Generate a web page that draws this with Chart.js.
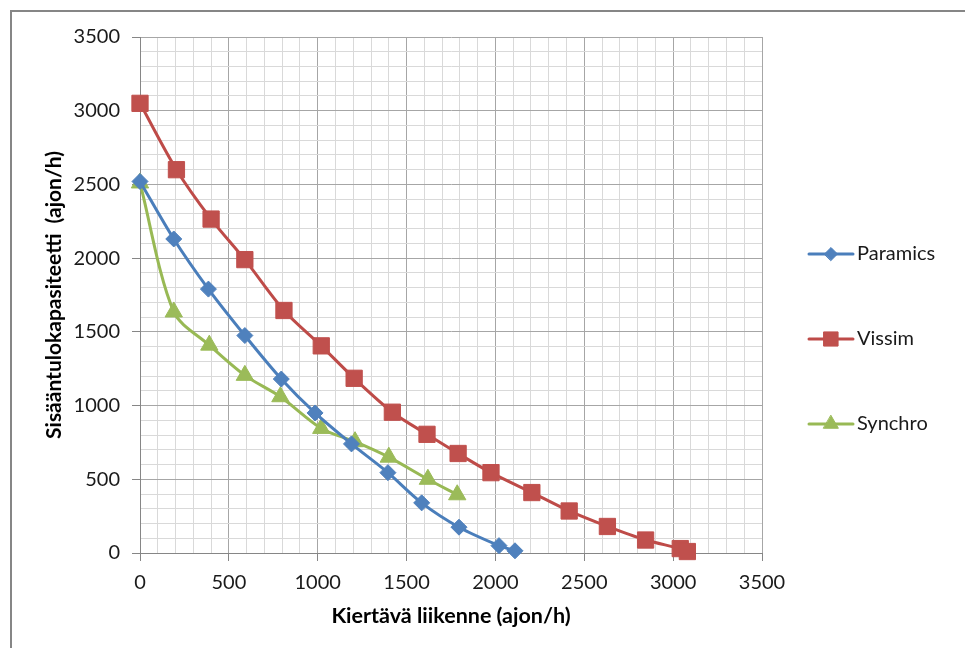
<!DOCTYPE html>
<html>
<head>
<meta charset="utf-8">
<script src="https://cdn.jsdelivr.net/npm/chart.js@4/dist/chart.umd.min.js"></script>
<style>
  html, body { margin: 0; padding: 0; background: #fff; }
  #wrap { width: 965px; height: 648px; }
</style>
</head>
<body>
<div id="wrap"><canvas id="chart" width="965" height="648"></canvas></div>
<script>
// kiertava liikenne (x) ja sisaantulokapasiteetti (y)
var paramicsX = [0, 190, 385, 590, 795, 985, 1190, 1395, 1585, 1795, 2020, 2110];
var paramicsY = [2520, 2130, 1790, 1475, 1180, 950, 740, 545, 340, 175, 50, 15];

var vissimX = [0, 205, 400, 590, 810, 1020, 1205, 1420, 1615, 1790, 1975, 2205, 2415, 2630, 2845, 3040, 3080];
var vissimY = [3050, 2600, 2265, 1990, 1645, 1405, 1185, 955, 805, 675, 545, 410, 285, 180, 88, 30, 10];

var synchroX = [0, 190, 390, 590, 790, 1020, 1210, 1400, 1620, 1785];
var synchroY = [2510, 1635, 1410, 1205, 1060, 845, 755, 650, 500, 395];

var seriesNames = ['Paramics', 'Vissim', 'Synchro'];
var lineColors = ['#4a7ebb', '#be4b48', '#98b954'];
var markerColors = ['#4f81bd', '#c0504d', '#9bbb59'];
var markerStyles = ['rectRot', 'rect', 'triangle'];
var markerSizes = [8, 11.5, 10];

var axisTicks = [0, 500, 1000, 1500, 2000, 2500, 3000, 3500];

var FONT = 'Lato, Calibri, "Liberation Sans", sans-serif';

function toPoints(xs, ys) {
  return xs.map(function (x, i) { return { x: x, y: ys[i] }; });
}

function isMajor(v) { return axisTicks.indexOf(v) !== -1; }

var allX = [paramicsX, vissimX, synchroX];
var allY = [paramicsY, vissimY, synchroY];

var datasets = seriesNames.map(function (name, i) {
  return {
    label: name,
    data: toPoints(allX[i], allY[i]),
    borderColor: lineColors[i],
    backgroundColor: markerColors[i],
    borderWidth: 3,
    tension: 0.3,
    pointStyle: markerStyles[i],
    pointRadius: markerSizes[i],
    pointHoverRadius: markerSizes[i],
    pointBorderWidth: 1,
    pointBorderColor: markerColors[i],
    pointBackgroundColor: markerColors[i],
    clip: false
  };
});

var frame = {
  id: 'frame',
  beforeDraw: function (chart) {
    var ctx = chart.ctx;
    ctx.save();
    ctx.fillStyle = '#fff';
    ctx.fillRect(0, 0, chart.width, chart.height);
    ctx.strokeStyle = '#868686';
    ctx.lineWidth = 2;
    ctx.strokeRect(11, 11, 1100, 1100);
    ctx.restore();
  }
};

var sideLegend = {
  id: 'sideLegend',
  afterDraw: function (chart) {
    var ctx = chart.ctx;
    var rows = [254, 339, 424];
    ctx.save();
    seriesNames.forEach(function (name, i) {
      var y = rows[i];
      ctx.strokeStyle = lineColors[i];
      ctx.lineWidth = 3;
      ctx.lineCap = 'round';
      ctx.beginPath();
      ctx.moveTo(809, y);
      ctx.lineTo(853, y);
      ctx.stroke();
      ctx.fillStyle = markerColors[i];
      ctx.strokeStyle = markerColors[i];
      ctx.lineWidth = 1;
      Chart.helpers.drawPoint(ctx, {
        pointStyle: markerStyles[i],
        radius: markerSizes[i] - 1.5,
        rotation: 0,
        borderWidth: 1
      }, 831, y);
      ctx.fillStyle = '#1a1a1a';
      ctx.font = '20px ' + FONT;
      ctx.textBaseline = 'middle';
      ctx.textAlign = 'left';
      ctx.fillText(name, 857, y);
    });
    ctx.restore();
  }
};

function gridColor(c) { return isMajor(c.tick.value) ? '#a6a6a6' : '#d9d9d9'; }
function tickColor(c) { return isMajor(c.tick.value) ? '#868686' : 'rgba(0,0,0,0)'; }
function tickLabel(v) { return isMajor(v) ? String(v) : ''; }

new Chart(document.getElementById('chart'), {
  type: 'line',
  data: { datasets: datasets },
  options: {
    responsive: false,
    animation: false,
    layout: { padding: { top: 37, right: 203, left: 0, bottom: 0 } },
    plugins: {
      legend: { display: false },
      tooltip: { enabled: false }
    },
    scales: {
      x: {
        type: 'linear',
        min: 0,
        max: 3500,
        afterFit: function (s) { s.height = 95; },
        ticks: {
          stepSize: 100,
          autoSkip: false,
          maxRotation: 0,
          padding: 10,
          color: '#1a1a1a',
          font: { family: FONT, size: 20 },
          callback: tickLabel
        },
        grid: { color: gridColor, tickColor: tickColor, tickLength: 8, lineWidth: 1 },
        border: { color: '#868686', width: 1 },
        title: {
          display: true,
          text: 'Kiertävä liikenne (ajon/h)',
          color: '#000',
          font: { family: FONT, size: 21.5, weight: 'bold' },
          padding: { top: 0, bottom: 19 }
        }
      },
      y: {
        type: 'linear',
        min: 0,
        max: 3500,
        afterFit: function (s) { s.width = 140; },
        ticks: {
          stepSize: 100,
          autoSkip: false,
          padding: 12,
          color: '#1a1a1a',
          font: { family: FONT, size: 20 },
          callback: tickLabel
        },
        grid: { color: gridColor, tickColor: tickColor, tickLength: 8, lineWidth: 1 },
        border: { color: '#868686', width: 1 },
        title: {
          display: true,
          text: 'Sisääntulokapasiteetti  (ajon/h)',
          color: '#000',
          font: { family: FONT, size: 21, weight: 'bold' },
          padding: { top: 42, bottom: 0 }
        }
      }
    }
  },
  plugins: [frame, sideLegend]
});
</script>
</body>
</html>
